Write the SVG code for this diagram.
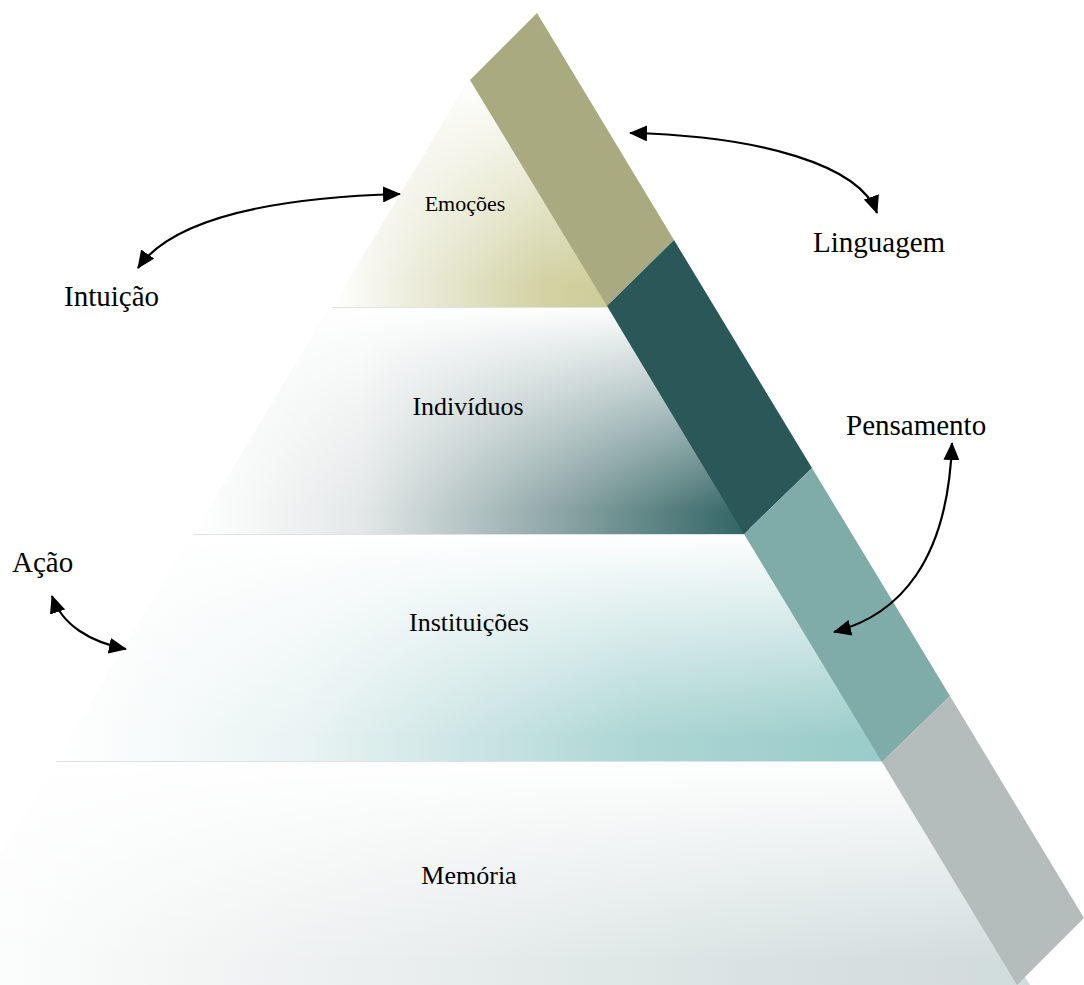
<svg xmlns="http://www.w3.org/2000/svg" width="1084" height="985" viewBox="0 0 1084 985">
<style>
text{font-family:"Liberation Serif","Times New Roman",serif;fill:#000}
.lbl{font-size:29px}
.lay{font-size:26px;text-anchor:middle}
.con{fill:none;stroke:#000;stroke-width:2.2;marker-start:url(#ah);marker-end:url(#ah)}
.sep{stroke:#dfe2e2;stroke-width:1.2}
</style>
<defs>
<marker id="ah" markerUnits="userSpaceOnUse" markerWidth="18" markerHeight="16" viewBox="0 0 18 16" refX="17" refY="8" orient="auto-start-reverse">
<path d="M0,0 L18,8 L0,16 z" fill="#000"/>
</marker>
<linearGradient id="wv" x1="0" y1="0" x2="0" y2="1">
<stop offset="0" stop-color="#fff" stop-opacity="1"/>
<stop offset="0.12" stop-color="#fff" stop-opacity="0.85"/>
<stop offset="0.9" stop-color="#fff" stop-opacity="0"/>
</linearGradient>
<linearGradient id="g1" x1="0" y1="0" x2="1" y2="0">
<stop offset="0" stop-color="#fff"/>
<stop offset="0.25" stop-color="#eeeee0"/>
<stop offset="0.75" stop-color="#d2d2a3"/>
<stop offset="1" stop-color="#cdcd99"/>
</linearGradient>
<linearGradient id="g2" x1="0" y1="0" x2="1" y2="0">
<stop offset="0" stop-color="#fff"/>
<stop offset="0.3" stop-color="#e4e8e8"/>
<stop offset="0.65" stop-color="#8ea6a6"/>
<stop offset="1" stop-color="#2f6363"/>
</linearGradient>
<linearGradient id="g3" x1="0" y1="0" x2="1" y2="0">
<stop offset="0" stop-color="#fff"/>
<stop offset="0.3" stop-color="#e9f3f3"/>
<stop offset="0.7" stop-color="#acd6d4"/>
<stop offset="1" stop-color="#98cbc9"/>
</linearGradient>
<linearGradient id="g4" x1="0" y1="0" x2="1" y2="0">
<stop offset="0" stop-color="#fff"/>
<stop offset="0.35" stop-color="#eef1f1"/>
<stop offset="0.75" stop-color="#d9e2e2"/>
<stop offset="1" stop-color="#d0dbdc"/>
</linearGradient>
</defs>
<rect width="1084" height="985" fill="#fff"/>

<g id="layer-memoria">
<polygon points="58,761 -80,985 1030,985 890,761" fill="url(#g4)"/>
<polygon points="58,761 -80,985 1030,985 890,761" fill="url(#wv)"/>
<text class="lay" x="469" y="884">Memória</text>
</g>
<g id="layer-instituicoes">
<polygon points="193,534 55,761 890,761 752,534" fill="url(#g3)"/>
<polygon points="193,534 55,761 890,761 752,534" fill="url(#wv)"/>
<text class="lay" x="469" y="631">Instituições</text>
</g>
<g id="layer-individuos">
<polygon points="330,307 193,534 752,534 614,307" fill="url(#g2)"/>
<polygon points="330,307 193,534 752,534 614,307" fill="url(#wv)"/>
<text class="lay" x="468" y="415">Indivíduos</text>
</g>
<g id="layer-emocoes">
<polygon points="470,79 332,307 614,307 476,79" fill="url(#g1)"/>
<polygon points="470,79 332,307 614,307 476,79" fill="url(#wv)"/>
<text class="lay" x="465" y="211" style="font-size:22px">Emoções</text>
</g>
<g id="separators">
<line class="sep" x1="332" y1="307.5" x2="607" y2="307.5"/>
<line class="sep" x1="193" y1="534.5" x2="745" y2="534.5"/>
<line class="sep" x1="56" y1="761.5" x2="882" y2="761.5"/>
</g>

<g id="band">
<polygon id="band-olive" points="470,80 537,13 674,240 607,306" fill="#a9aa7f"/>
<polygon id="band-dark" points="607,306 674,240 812,468 744,534" fill="#2a5757"/>
<polygon id="band-teal" points="744,534 812,468 950,696 882,762" fill="#7faba9"/>
<polygon id="band-grey" points="882,762 950,696 1084,918 1017,985" fill="#b5bdbc"/>
</g>

<g id="connectors">
<path class="con" d="M138,268 C170,222 260,198 400,194"/>
<path class="con" d="M630,133 C760,136 860,165 877,213"/>
<path class="con" d="M952,443 C948,560 900,615 834,632"/>
<path class="con" d="M52,596 C62,625 90,642 126,649"/>
</g>

<g id="label-intuicao"><text class="lbl" x="64" y="306">Intuição</text></g>
<g id="label-linguagem"><text class="lbl" x="813" y="252">Linguagem</text></g>
<g id="label-pensamento"><text class="lbl" x="846" y="435">Pensamento</text></g>
<g id="label-acao"><text class="lbl" x="12" y="572">Ação</text></g>
</svg>
